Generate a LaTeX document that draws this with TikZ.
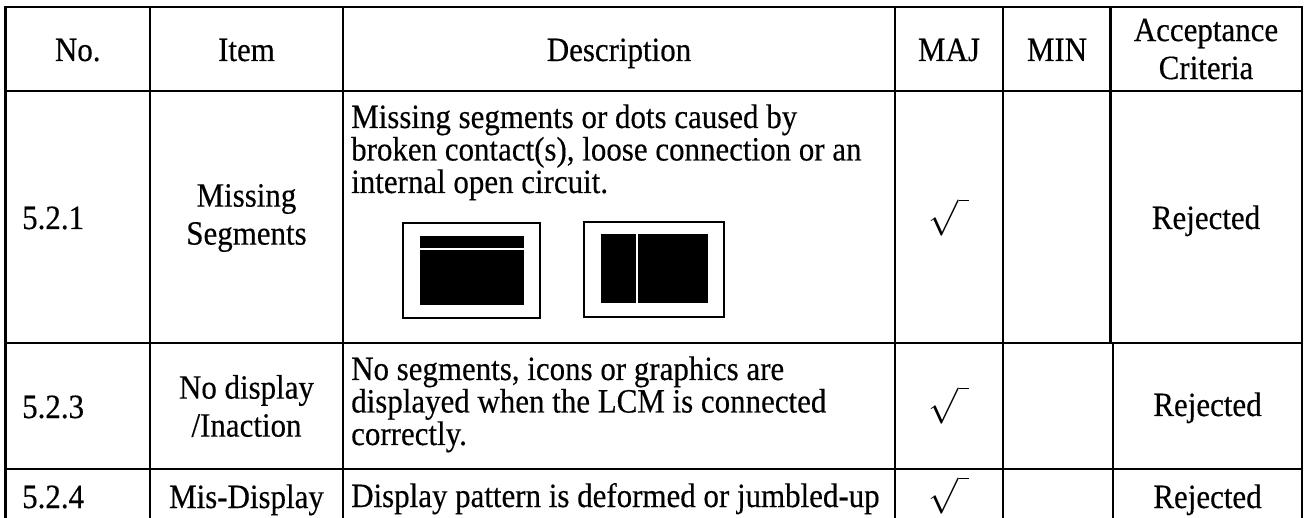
\documentclass[tikz,border=0pt]{standalone}
\usepackage{fontspec}
\setmainfont{Liberation Serif}[FakeStretch=0.91,FakeBold=0.35]
\newcommand{\majmark}{\scalebox{1.45}{$\sqrt{\hphantom{\cdot}}$}}
\begin{document}
\begin{tikzpicture}[x=1pt,y=-1pt,
  grid/.style={line width=2.2pt, line cap=rect},
  txt/.style={inner sep=0pt, font=\fontsize{34}{33}\selectfont},
  cell/.style={txt, anchor=base},
  lcell/.style={txt, anchor=base west},
  two/.style={txt, anchor=center, align=center},
  chk/.style={inner sep=0pt, anchor=center, font=\fontsize{24.88}{26}\selectfont},
  frame/.style={line width=1.5pt},
  segline/.style={white, line width=1.3pt}]
\useasboundingbox (0,0) rectangle (1304,518);
% grid
\draw[grid] (5.5,7) -- (1302,7);
\draw[grid] (5.5,91) -- (1302,91);
\draw[grid] (5.5,343) -- (1302,343);
\draw[grid] (5.5,469) -- (1302,469);
\draw[grid] (5.5,7) -- (5.5,522);
\draw[grid] (150,7) -- (150,522);
\draw[grid] (343,7) -- (343,522);
\draw[grid] (895,7) -- (895,522);
\draw[grid] (1003,7) -- (1003,522);
\draw[grid] (1110.5,7) -- (1110.5,343);
\draw[grid] (1113,343) -- (1113,522);
\draw[grid] (1302,7) -- (1302,522);
% header
\node[cell] (hno) at (77.75,61) {No.};
\node[cell] (hitem) at (246.5,61) {Item};
\node[cell] (hdesc) at (619,61) {Description};
\node[cell] (hmaj) at (949,61) {MAJ};
\node[cell] (hmin) at (1057,61) {MIN};
\node[two] (hacc) at (1206,49) {Acceptance\\[5pt]Criteria};
% row 1
\node[lcell] (n1) at (22,229) {5.2.1};
\node[two] (i1) at (246.5,218) {Missing\\[5pt]Segments};
\node[lcell] (d1a) at (351,128) {Missing segments or dots caused by};
\node[lcell] (d1b) at (351,160.5) {broken contact(s), loose connection or an};
\node[lcell] (d1c) at (351,193) {internal open circuit.};
\node[chk] (c1) at (949,217) {\majmark};
\node[cell] (r1) at (1206,229) {Rejected};
% icons
\draw[frame] (403,223) rectangle (540,318);
\fill (420,236) rectangle (524,305);
\draw[segline] (420,249) -- (524,249);
\draw[frame] (584,222) rectangle (724,317);
\fill (601,234) rectangle (708,303);
\draw[segline] (637,234) -- (637,303);
% row 2
\node[lcell] (n2) at (22,418) {5.2.3};
\node[two] (i2) at (246.5,406) {No display\\[5pt]/Inaction};
\node[lcell] (d2a) at (351,380) {No segments, icons or graphics are};
\node[lcell] (d2b) at (351,412.5) {displayed when the LCM is connected};
\node[lcell] (d2c) at (351,445) {correctly.};
\node[chk] (c2) at (949,405) {\majmark};
\node[cell] (r2) at (1207.5,416) {Rejected};
% row 3
\node[lcell] (n3) at (22,508) {5.2.4};
\node[cell] (i3) at (246.5,508) {Mis-Display};
\node[lcell] (d3) at (351,507) {Display pattern is deformed or jumbled-up};
\node[chk] (c3) at (949,495) {\majmark};
\node[cell] (r3) at (1207.5,508) {Rejected};
\end{tikzpicture}
\end{document}
